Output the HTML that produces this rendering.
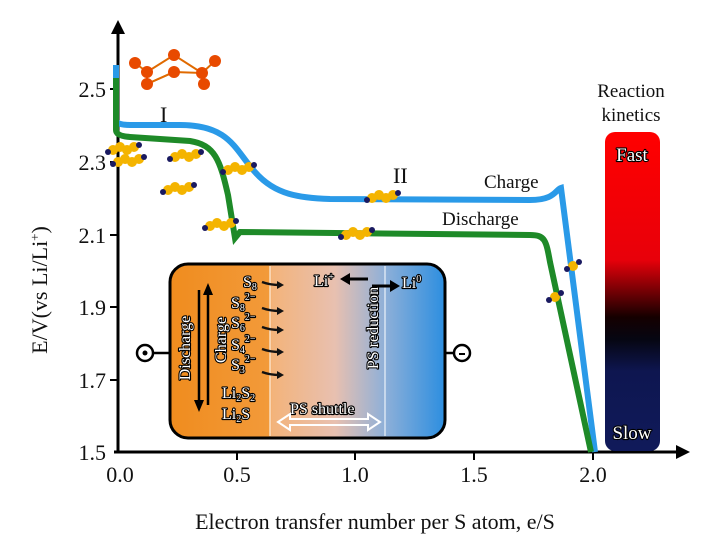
<!DOCTYPE html>
<html><head><meta charset="utf-8"><style>
html,body{margin:0;padding:0;background:#fff}
svg{display:block}
text{font-family:"Liberation Serif",serif}
.w{fill:#fff;stroke:#000;stroke-width:2.2;paint-order:stroke;stroke-linejoin:round}
</style></head><body>
<svg width="706" height="547" viewBox="0 0 706 547" xmlns="http://www.w3.org/2000/svg">
<defs>
<linearGradient id="bar" x1="0" y1="0" x2="0" y2="1">
<stop offset="0" stop-color="#f00"/><stop offset="0.4" stop-color="#e8000a"/>
<stop offset="0.58" stop-color="#150000"/><stop offset="0.65" stop-color="#060612"/>
<stop offset="0.75" stop-color="#0e1650"/><stop offset="1" stop-color="#101a5a"/>
</linearGradient>
<linearGradient id="cell" x1="0" y1="0" x2="1" y2="0">
<stop offset="0" stop-color="#f08c1e"/><stop offset="0.36" stop-color="#f29a3a"/>
<stop offset="0.37" stop-color="#f3b37a"/><stop offset="0.6" stop-color="#e8c0b0"/>
<stop offset="0.78" stop-color="#8fb0d8"/><stop offset="1" stop-color="#2c8ee0"/>
</linearGradient>
<g id="mol"><circle cx="0" cy="0" r="5" fill="#f4b400"/><circle cx="7" cy="-3" r="5" fill="#f4b400"/><circle cx="14" cy="0" r="5" fill="#f4b400"/><circle cx="21" cy="-3" r="5" fill="#f4b400"/><circle cx="-5" cy="2" r="3" fill="#1a1a60"/><circle cx="26" cy="-5" r="3" fill="#1a1a60"/></g>
<g id="sm"><circle cx="0" cy="0" r="5" fill="#f4b400"/><circle cx="-6" cy="3" r="3" fill="#1a1a60"/><circle cx="6" cy="-4" r="3" fill="#1a1a60"/></g>
</defs>
<line x1="118" y1="30" x2="118" y2="452" stroke="#000" stroke-width="3"/>
<polygon points="118,20 111,34 125,34" fill="#000"/>
<line x1="114" y1="452" x2="680" y2="452" stroke="#000" stroke-width="3"/>
<polygon points="690,452 676,445 676,459" fill="#000"/>
<g stroke="#000" stroke-width="2">
<line x1="110" y1="89" x2="118" y2="89"/><line x1="110" y1="162" x2="118" y2="162"/><line x1="110" y1="235" x2="118" y2="235"/><line x1="110" y1="307" x2="118" y2="307"/><line x1="110" y1="380" x2="118" y2="380"/>
<line x1="237" y1="452" x2="237" y2="460"/><line x1="355" y1="452" x2="355" y2="460"/><line x1="474" y1="452" x2="474" y2="460"/><line x1="593" y1="452" x2="593" y2="460"/>
</g>
<g font-size="22" fill="#111" text-anchor="end">
<text x="106" y="97">2.5</text><text x="106" y="170">2.3</text><text x="106" y="243">2.1</text><text x="106" y="315">1.9</text><text x="106" y="388">1.7</text><text x="106" y="460">1.5</text>
</g>
<g font-size="22" fill="#111" text-anchor="middle">
<text x="120" y="482">0.0</text><text x="237" y="482">0.5</text><text x="355" y="482">1.0</text><text x="474" y="482">1.5</text><text x="593" y="482">2.0</text>
</g>
<text x="375" y="529" font-size="22" text-anchor="middle" fill="#111">Electron transfer number per S atom, e/S</text>
<text transform="translate(47,290) rotate(-90)" font-size="22" text-anchor="middle" fill="#111">E/V(vs Li/Li<tspan font-size="13" dy="-8">+</tspan><tspan dy="8">)</tspan></text>
<g stroke="#e06a00" stroke-width="2" fill="none"><polyline points="135,63 147,72 147,84 174,72 202,73 215,61"/><polyline points="147,72 174,55 202,73 204,84"/><line x1="147" y1="84" x2="174" y2="72"/></g>
<g fill="#e84a00"><circle cx="135" cy="63" r="6"/><circle cx="147" cy="72" r="6"/><circle cx="147" cy="84" r="6"/><circle cx="174" cy="55" r="6"/><circle cx="174" cy="72" r="6"/><circle cx="202" cy="73" r="6"/><circle cx="204" cy="84" r="6"/><circle cx="215" cy="61" r="6"/></g>
<path d="M116,65 L116,120 Q116,125 130,125 L180,125 C230,125 235,150 255,172 C275,195 300,198 330,199 L530,200 C555,200 555,190 561,188 L595,452" fill="none" stroke="#2a9ae8" stroke-width="6"/>
<path d="M116,78 L116,130 Q116,136 130,137 L190,141 C215,145 220,160 228,195 L235,238 L240,232 L530,235 C545,235 546,240 550,262 L591,452" fill="none" stroke="#1e8a28" stroke-width="6"/>
<use href="#mol" x="113" y="150"/><use href="#mol" x="118" y="162"/><use href="#mol" x="175" y="157"/><use href="#mol" x="168" y="190"/>
<use href="#mol" x="228" y="170"/><use href="#mol" x="210" y="226"/><use href="#mol" x="346" y="235"/><use href="#mol" x="372" y="198"/>
<use href="#sm" x="573" y="266"/><use href="#sm" x="555" y="297"/>
<text x="160" y="122" font-size="22" fill="#111">I</text>
<text x="393" y="183" font-size="22" fill="#111">II</text>
<text x="484" y="188" font-size="19" fill="#111">Charge</text>
<text x="442" y="225" font-size="19" fill="#111">Discharge</text>
<rect x="605" y="132" width="55" height="319" rx="10" fill="url(#bar)"/>
<text x="631" y="97" font-size="19" text-anchor="middle" fill="#111">Reaction</text>
<text x="631" y="121" font-size="19" text-anchor="middle" fill="#111">kinetics</text>
<text x="632" y="161" font-size="19" text-anchor="middle" class="w">Fast</text>
<text x="632" y="439" font-size="19" text-anchor="middle" class="w">Slow</text>
<line x1="150" y1="353" x2="170" y2="353" stroke="#000" stroke-width="2.5"/>
<line x1="445" y1="353" x2="455" y2="353" stroke="#000" stroke-width="2.5"/>
<circle cx="145" cy="353" r="8" fill="#fff" stroke="#000" stroke-width="2.5"/><circle cx="145" cy="353" r="2.5" fill="#000"/>
<circle cx="462" cy="353" r="8" fill="#fff" stroke="#000" stroke-width="2.5"/><line x1="459" y1="354" x2="465" y2="354" stroke="#000" stroke-width="2"/>
<rect x="170" y="264" width="275" height="174" rx="18" fill="url(#cell)" stroke="#000" stroke-width="3"/>
<line x1="270" y1="266" x2="270" y2="436" stroke="#fff" stroke-width="1"/>
<line x1="385" y1="266" x2="385" y2="436" stroke="#fff" stroke-width="1"/>
<g stroke="#000" stroke-width="2.5"><line x1="199" y1="290" x2="199" y2="405"/><line x1="208" y1="290" x2="208" y2="405"/></g>
<polygon points="199,412 194,400 204,400" fill="#000"/><polygon points="208,283 203,295 213,295" fill="#000"/>
<text transform="translate(190,348) rotate(-90)" font-size="16" text-anchor="middle" class="w">Discharge</text>
<text transform="translate(226,340) rotate(-90)" font-size="16" text-anchor="middle" class="w">Charge</text>
<g font-size="16" class="w">
<text x="243" y="287">S<tspan font-size="10" dy="3">8</tspan></text>
<text x="231" y="308">S<tspan font-size="10" dy="3">8</tspan><tspan font-size="10" dy="-11">2−</tspan></text>
<text x="231" y="328">S<tspan font-size="10" dy="3">6</tspan><tspan font-size="10" dy="-11">2−</tspan></text>
<text x="231" y="350">S<tspan font-size="10" dy="3">4</tspan><tspan font-size="10" dy="-11">2−</tspan></text>
<text x="231" y="370">S<tspan font-size="10" dy="3">3</tspan><tspan font-size="10" dy="-11">2−</tspan></text>
<text x="222" y="398">Li<tspan font-size="10" dy="3">2</tspan><tspan dy="-3">S</tspan><tspan font-size="10" dy="3">2</tspan></text>
<text x="222" y="419">Li<tspan font-size="10" dy="3">2</tspan><tspan dy="-3">S</tspan></text>
<text x="314" y="286">Li<tspan font-size="10" dy="-6">+</tspan></text>
<text x="402" y="288">Li<tspan font-size="10" dy="-6">0</tspan></text>
<text transform="translate(378,328) rotate(-90)" text-anchor="middle">PS reduction</text>
<text x="290" y="414">PS shuttle</text>
</g>
<g stroke="#111" stroke-width="2.5" fill="none">
<path d="M262,282 q8,3 18,3"/><path d="M262,308 q8,3 18,3"/><path d="M262,327 q8,3 18,3"/><path d="M262,349 q8,3 18,3"/><path d="M262,372 q8,3 18,3"/>
</g>
<g fill="#111"><polygon points="284,285 277,281 277,289"/><polygon points="284,311 277,307 277,315"/><polygon points="284,330 277,326 277,334"/><polygon points="284,352 277,348 277,356"/><polygon points="284,375 277,371 277,379"/></g>
<g stroke="#000" stroke-width="3"><line x1="345" y1="279" x2="368" y2="279"/><line x1="372" y1="286" x2="395" y2="286"/></g>
<polygon points="340,279 350,273 350,285" fill="#000"/><polygon points="400,286 390,280 390,292" fill="#000"/>
<path d="M278,422 L290,414 L290,419 L368,419 L368,414 L380,422 L368,430 L368,425 L290,425 L290,430 Z" fill="none" stroke="#fff" stroke-width="2"/>
</svg>
</body></html>
